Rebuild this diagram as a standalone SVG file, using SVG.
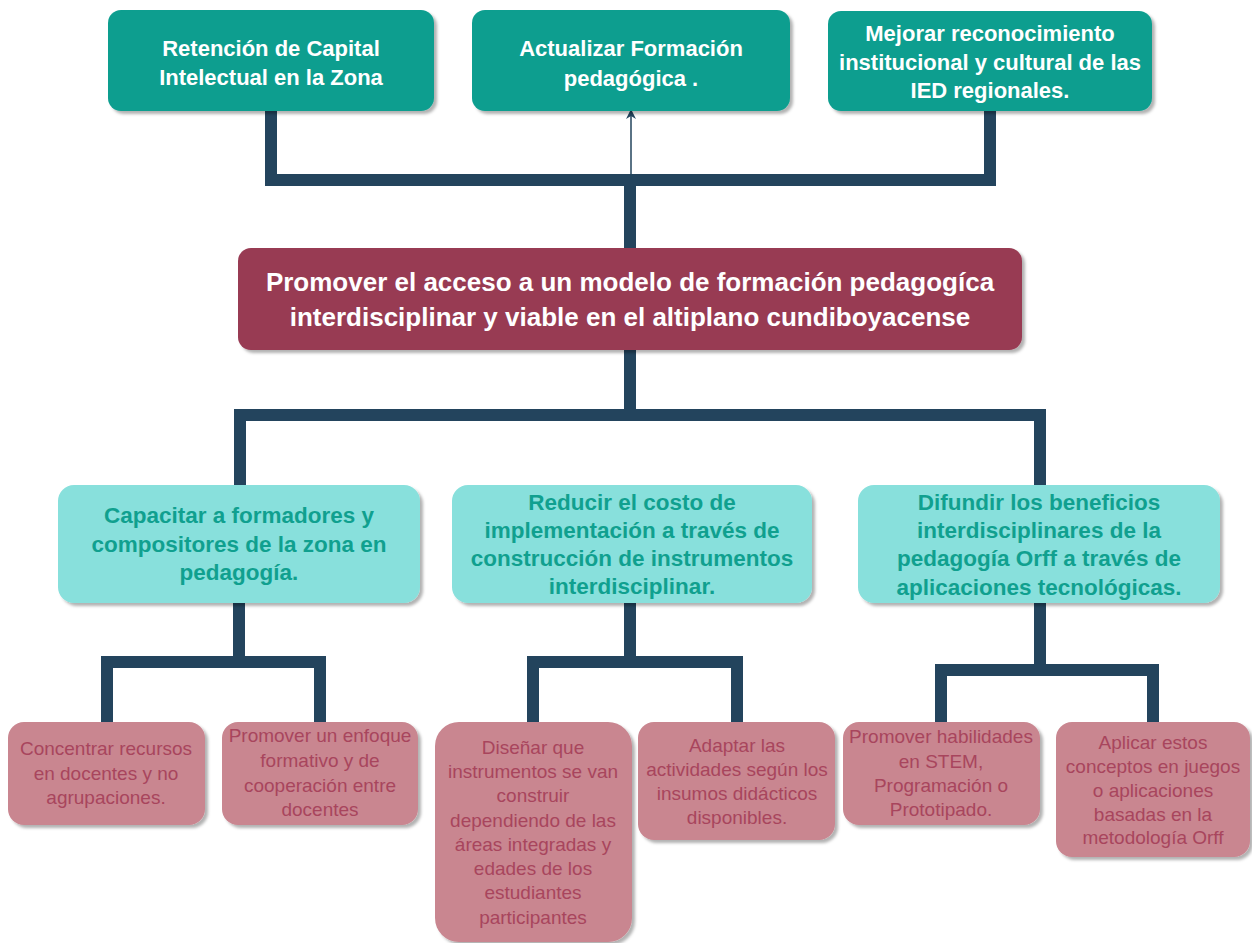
<svg xmlns="http://www.w3.org/2000/svg" width="1252" height="943" viewBox="0 0 1252 943">
<style>
text{font-family:"Liberation Sans",Arial,sans-serif;text-anchor:middle;dominant-baseline:central}
.top{fill:#0C9E8F;filter:url(#sh)}
.topt{fill:#fff;font-weight:bold;font-size:22px}
.main{fill:#983A53;filter:url(#sh)}
.maint{fill:#fff;font-weight:bold;font-size:26px}
.mid{fill:#88E0DC;filter:url(#sh)}
.midt{fill:#10A08F;font-weight:bold;font-size:22.5px}
.leaf{fill:#C98690;filter:url(#sh)}
.leaft{fill:#A8455D;font-size:19px}
.con{fill:none;stroke:#23445D;stroke-width:12;stroke-linejoin:miter;stroke-linecap:butt}
</style>
<defs>
<filter id="sh" x="-10%" y="-10%" width="130%" height="140%">
<feDropShadow dx="3" dy="3" stdDeviation="1.5" flood-color="#000" flood-opacity="0.3"/>
</filter>
<marker id="arr" markerWidth="10" markerHeight="10" refX="5" refY="5" orient="auto" markerUnits="userSpaceOnUse">
<path d="M0,0 L10,5 L0,10 L3,5 Z" fill="#23445D"/>
</marker>
</defs>
<g id="connectors">
<polyline class="con" points="271,111 271,180 990,180 990,111"/>
<line class="con" x1="630" y1="180" x2="630" y2="249"/>
<line x1="631" y1="180" x2="631" y2="114" stroke="#23445D" stroke-width="1.5" marker-end="url(#arr)"/>
<line class="con" x1="630" y1="349" x2="630" y2="415"/>
<polyline class="con" points="240,487 240,415 1040,415 1040,487"/>
<line class="con" x1="239" y1="603" x2="239" y2="662"/>
<polyline class="con" points="107,722 107,662 320,662 320,722"/>
<line class="con" x1="630" y1="603" x2="630" y2="662"/>
<polyline class="con" points="533,722 533,662 737,662 737,722"/>
<line class="con" x1="1040" y1="603" x2="1040" y2="670"/>
<polyline class="con" points="941,722 941,670 1153,670 1153,722"/>
</g>
<g id="n-retencion">
<rect class="top" x="108" y="10" width="326" height="101" rx="13"/>
<text class="topt" x="271" y="48">Retención de Capital</text>
<text class="topt" x="271" y="77">Intelectual en la Zona</text>
</g>
<g id="n-actualizar">
<rect class="top" x="472" y="10" width="318" height="101" rx="13"/>
<text class="topt" x="631" y="48">Actualizar Formación</text>
<text class="topt" x="631" y="78">pedagógica .</text>
</g>
<g id="n-mejorar">
<rect class="top" x="828" y="11" width="324" height="100" rx="13"/>
<text class="topt" x="990" y="33">Mejorar reconocimiento</text>
<text class="topt" x="990" y="62">institucional y cultural de las</text>
<text class="topt" x="990" y="90">IED regionales.</text>
</g>
<g id="n-main">
<rect class="main" x="238" y="248" width="784" height="102" rx="13"/>
<text class="maint" x="630" y="282">Promover el acceso a un modelo de formación pedagogíca</text>
<text class="maint" x="630" y="317">interdisciplinar y viable en el altiplano cundiboyacense</text>
</g>
<g id="n-capacitar">
<rect class="mid" x="58" y="485" width="362" height="118" rx="16"/>
<text class="midt" x="239" y="515">Capacitar a formadores y</text>
<text class="midt" x="239" y="544">compositores de la zona en</text>
<text class="midt" x="239" y="572">pedagogía.</text>
</g>
<g id="n-reducir">
<rect class="mid" x="452" y="485" width="360" height="118" rx="16"/>
<text class="midt" x="632" y="502">Reducir el costo de</text>
<text class="midt" x="632" y="530">implementación a través de</text>
<text class="midt" x="632" y="558">construcción de instrumentos</text>
<text class="midt" x="632" y="586">interdisciplinar.</text>
</g>
<g id="n-difundir">
<rect class="mid" x="858" y="485" width="362" height="118" rx="16"/>
<text class="midt" x="1039" y="502">Difundir los beneficios</text>
<text class="midt" x="1039" y="530">interdisciplinares de la</text>
<text class="midt" x="1039" y="558">pedagogía Orff a través de</text>
<text class="midt" x="1039" y="587">aplicaciones tecnológicas.</text>
</g>
<g id="n-concentrar">
<rect class="leaf" x="8" y="722" width="197" height="103" rx="16"/>
<text class="leaft" x="106" y="748">Concentrar recursos</text>
<text class="leaft" x="106" y="773">en docentes y no</text>
<text class="leaft" x="106" y="797">agrupaciones.</text>
</g>
<g id="n-enfoque">
<rect class="leaf" x="222" y="722" width="196" height="103" rx="16"/>
<text class="leaft" x="320" y="735">Promover un enfoque</text>
<text class="leaft" x="320" y="760">formativo y de</text>
<text class="leaft" x="320" y="785">cooperación entre</text>
<text class="leaft" x="320" y="809">docentes</text>
</g>
<g id="n-disenar">
<rect class="leaf" x="435" y="722" width="197" height="220" rx="24"/>
<text class="leaft" x="533" y="747">Diseñar que</text>
<text class="leaft" x="533" y="771">instrumentos se van</text>
<text class="leaft" x="533" y="795">construir</text>
<text class="leaft" x="533" y="820">dependiendo de las</text>
<text class="leaft" x="533" y="844">áreas integradas y</text>
<text class="leaft" x="533" y="868">edades de los</text>
<text class="leaft" x="533" y="892">estudiantes</text>
<text class="leaft" x="533" y="917">participantes</text>
</g>
<g id="n-adaptar">
<rect class="leaf" x="638" y="722" width="197" height="118" rx="16"/>
<text class="leaft" x="737" y="745">Adaptar las</text>
<text class="leaft" x="737" y="769">actividades según los</text>
<text class="leaft" x="737" y="793">insumos didácticos</text>
<text class="leaft" x="737" y="817">disponibles.</text>
</g>
<g id="n-stem">
<rect class="leaf" x="843" y="722" width="197" height="103" rx="16"/>
<text class="leaft" x="941" y="736">Promover habilidades</text>
<text class="leaft" x="941" y="761">en STEM,</text>
<text class="leaft" x="941" y="785">Programación o</text>
<text class="leaft" x="941" y="809">Prototipado.</text>
</g>
<g id="n-aplicar">
<rect class="leaf" x="1056" y="722" width="194" height="135" rx="16"/>
<text class="leaft" x="1153" y="742">Aplicar estos</text>
<text class="leaft" x="1153" y="766">conceptos en juegos</text>
<text class="leaft" x="1153" y="790">o aplicaciones</text>
<text class="leaft" x="1153" y="814">basadas en la</text>
<text class="leaft" x="1153" y="837">metodología Orff</text>
</g>
</svg>
